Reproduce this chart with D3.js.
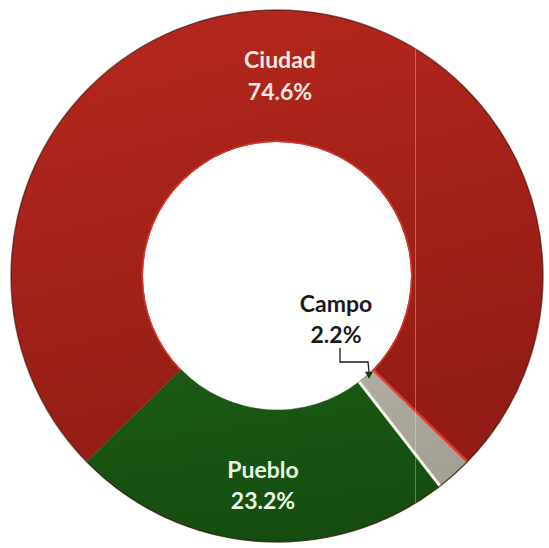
<!DOCTYPE html>
<html><head><meta charset="utf-8">
<script src="https://cdn.jsdelivr.net/npm/d3@7"></script>
<style>html,body{margin:0;padding:0;background:#fff;}svg{display:block;}</style>
</head><body>
<svg id="chart" width="549" height="548"></svg>
<script>
const categories = ["Ciudad", "Campo", "Pueblo"];
const values = [74.6, 2.2, 23.2];
const valueLabels = ["74.6%", "2.2%", "23.2%"];

const W = 549, H = 548;
const cx = 277, cy = 276, R = 266, r = 134;
const startDeg = -134.3;

const svg = d3.select("#chart");
const defs = svg.append("defs");
function vgrad(id, c1, c2) {
  const g = defs.append("linearGradient").attr("id", id).attr("x1", 0).attr("y1", 0).attr("x2", 0.3).attr("y2", 1);
  g.append("stop").attr("offset", "0%").attr("stop-color", c1);
  g.append("stop").attr("offset", "100%").attr("stop-color", c2);
}
vgrad("gRed", "#b7281e", "#931d16");
vgrad("gGreen", "#1c5a15", "#154d10");
vgrad("gGray", "#b0aca2", "#a4a096");

const fills = {Ciudad: "url(#gRed)", Campo: "url(#gGray)", Pueblo: "url(#gGreen)"};

const data = categories.map((c, i) => ({cat: c, value: values[i], label: valueLabels[i]}));
const pie = d3.pie().sort(null).value(d => d.value)
  .startAngle(startDeg * Math.PI / 180)
  .endAngle(startDeg * Math.PI / 180 + 2 * Math.PI);
const arcs = pie(data);
const arc = d3.arc().innerRadius(r).outerRadius(R);

const g = svg.append("g").attr("transform", `translate(${cx},${cy})`);

g.selectAll("path.slice").data(arcs).join("path")
  .attr("class", "slice")
  .attr("d", arc)
  .attr("fill", d => fills[d.data.cat])
  .attr("stroke", d => d.data.cat === "Ciudad" ? "none" : "#1a5515")
  .attr("stroke-width", 0.5);

// edges of the Campo slice: white on the Pueblo side, bright red on the Ciudad side
const campo = arcs.find(d => d.data.cat === "Campo");
function radial(a, rr1, rr2) {
  const s = Math.sin(a), c = -Math.cos(a);
  return [[rr1 * s, rr1 * c], [rr2 * s, rr2 * c]];
}
g.append("path").attr("d", d3.line()(radial(campo.endAngle, r, R)))
  .attr("stroke", "#f6f6ea").attr("stroke-width", 3);
g.append("path").attr("d", d3.line()(radial(campo.startAngle, r, R)))
  .attr("stroke", "#e5392e").attr("stroke-width", 2.5);

// inner rim of Ciudad
const ciudad = arcs.find(d => d.data.cat === "Ciudad");
g.append("path").attr("d", d3.arc().innerRadius(r).outerRadius(r + 1.5)
    .startAngle(ciudad.startAngle).endAngle(ciudad.endAngle)())
  .attr("fill", "#d8352a");

// outer dark edge
g.append("circle").attr("r", R).attr("fill", "none").attr("stroke", "#3a0c08").attr("stroke-width", 1.5).attr("opacity", 0.6);

// faint vertical artifact line
defs.append("clipPath").attr("id", "donutClip").append("path")
  .attr("d", d3.arc().innerRadius(r).outerRadius(R).startAngle(0).endAngle(2 * Math.PI)())
  .attr("transform", `translate(${cx},${cy})`);
svg.append("line").attr("x1", 415.5).attr("x2", 415.5).attr("y1", 0).attr("y2", H)
  .attr("stroke", "#ffffff").attr("stroke-opacity", 0.3).attr("stroke-width", 1)
  .attr("clip-path", "url(#donutClip)");

const font = "Lato, 'Open Sans', sans-serif";
function label(x, y1, y2, name, val, color) {
  const t = svg.append("g").attr("font-family", font).attr("font-weight", "bold")
    .attr("font-size", 23).attr("fill", color).attr("text-anchor", "middle");
  t.append("text").attr("x", x).attr("y", y1).text(name);
  t.append("text").attr("x", x).attr("y", y2).text(val);
}
label(280, 68, 100, data[0].cat, data[0].label, "#fbe9e4");
label(263, 478, 509, data[2].cat, data[2].label, "#e9f6e4");
label(336, 312, 343, data[1].cat, data[1].label, "#1a1a1a");

// leader line to Campo
const lp = d3.line()([[340, 348], [340, 362], [368, 362], [369, 372]]);
svg.append("path").attr("d", lp).attr("fill", "none").attr("stroke", "#1a1a1a").attr("stroke-width", 1.3);
svg.append("path").attr("d", d3.symbol().type(d3.symbolTriangle).size(28)())
  .attr("transform", "translate(369,374) rotate(180)").attr("fill", "#0f3b10");
</script>
</body></html>
